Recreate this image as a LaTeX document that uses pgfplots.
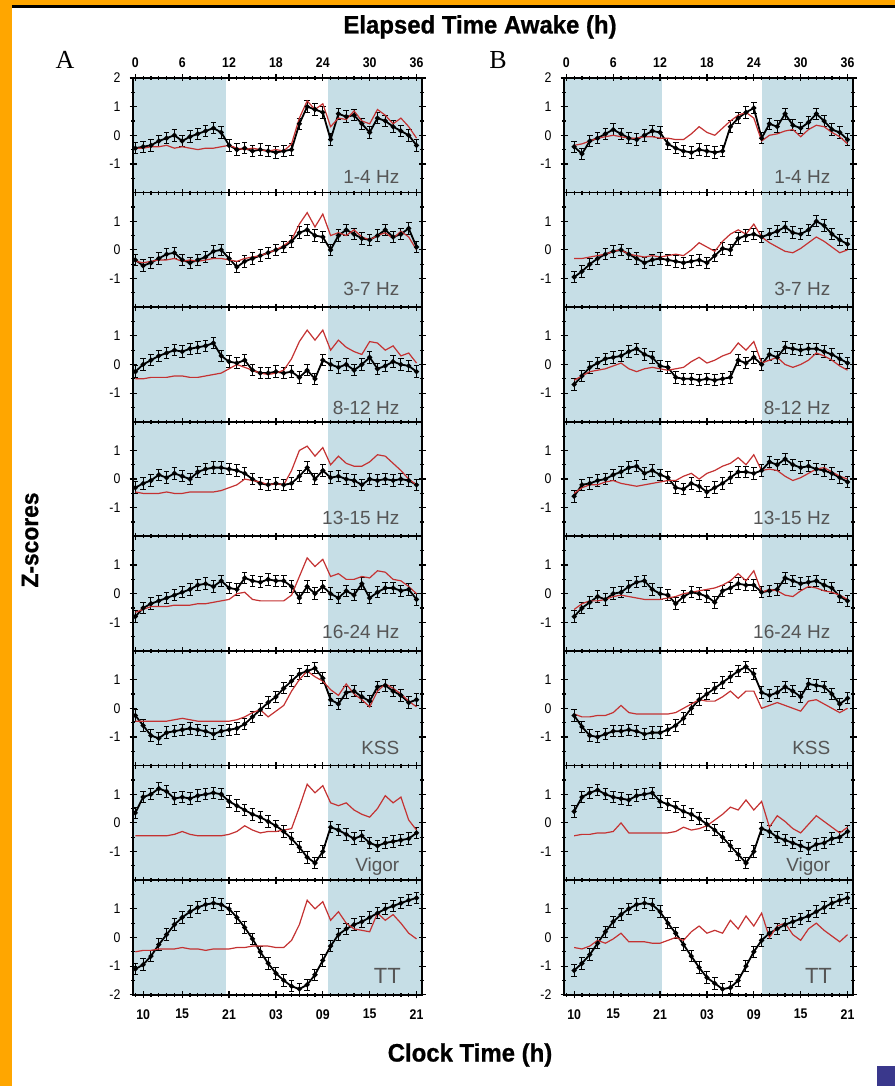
\documentclass[border=0pt]{standalone}
\usepackage{fontspec}
\setmainfont{Liberation Sans}
\newfontfamily\cf[FakeStretch=0.88]{Liberation Sans}
\newfontfamily\cfb[FakeStretch=0.88]{Liberation Sans Bold}
\newfontfamily\ttl[FakeStretch=0.95,FakeBold=0.8]{Liberation Sans Bold}
\newfontfamily\serifA{Liberation Serif}
\usepackage{pgfplots}
\pgfplotsset{compat=1.18}
\definecolor{shadeblue}{RGB}{198,222,230}
\definecolor{zred}{RGB}{196,50,50}
\definecolor{lblgray}{RGB}{85,85,85}
\definecolor{frameorange}{RGB}{255,166,0}
\definecolor{sqblue}{RGB}{58,56,140}
\newcommand\ticksfont{\cf\fontsize{7}{8}\selectfont}
\newcommand\bticksfont{\cfb\fontsize{7}{8}\selectfont}
\tikzset{rowlbl/.style={anchor=east, font=\fontsize{9.5}{10}\selectfont, text=lblgray}}
\pgfplotsset{
  panel/.style={
    scale only axis, width=144.5pt, height=57.3pt,
    xmin=-0.3, xmax=36.7, ymin=-2, ymax=2,
    xtick={0,6,...,36}, minor xtick={0,1,...,36},
    xticklabels={},
    ytick={-1,0,1}, minor ytick={-1.5,-0.5,0.5,1.5},
    tick align=center, major tick length=3.5pt, minor tick length=2pt,
    tick style={black, line width=0.6pt},
    axis line style={line width=0.9pt},
    axis on top,
    yticklabel style={font=\ticksfont, xshift=-1pt},
    xticklabel style={font=\bticksfont},
    /pgf/number format/assume math mode=true,
    clip=true, anchor=south west,
  },
  toprow/.style={ytick={-1,0,1,2}, xticklabel pos=upper, xticklabels={0,6,12,18,24,30,36}},
  botrow/.style={ytick={-2,-1,0,1}, xtick={1,6,12,18,24,30,36}, xticklabels={10,15,21,03,09,15,21}, xticklabel style={yshift=-2pt}},
  blk/.style={black, line width=0.9pt, mark=*, mark size=0.75pt, mark options={solid},
    error bars/.cd, y dir=both, y fixed=0.2, error bar style={line width=0.5pt},
    error mark options={rotate=90, mark size=1.4pt, line width=0.5pt}},
  zr/.style={zred, line width=0.6pt, no markers},
}
\newcommand\shadeA{\fill[shadeblue] (axis cs:-0.3,-2) rectangle (axis cs:11.6,2);\fill[shadeblue] (axis cs:24.7,-2) rectangle (axis cs:36.7,2);}
\newcommand\shadeB{\fill[shadeblue] (axis cs:-0.3,-2) rectangle (axis cs:12.3,2);\fill[shadeblue] (axis cs:25.0,-2) rectangle (axis cs:36.7,2);}
\begin{document}
\begin{tikzpicture}
\path[use as bounding box] (0,0) rectangle (447.5pt,543pt);
\fill[white] (0,0) rectangle (447.5pt,543pt);
\fill[frameorange] (0,0) rectangle (6pt,543pt);
\fill[frameorange] (0,540.5pt) rectangle (447.5pt,543pt);
\fill[black] (6pt,539pt) rectangle (447.5pt,540.5pt);
\fill[sqblue] (438.5pt,0) rectangle (447.5pt,10pt);
\node[font=\ttl\fontsize{12.6}{14}\selectfont] at (240pt,529.5pt) {Elapsed Time Awake (h)};
\node[font=\ttl\fontsize{12.6}{14}\selectfont] at (235pt,15.5pt) {Clock Time (h)};
\node[font=\ttl\fontsize{12}{14}\selectfont, rotate=90] at (15pt,273pt) {Z-scores};
\node[font=\serifA\fontsize{13}{14}\selectfont] at (32.5pt,513pt) {A};
\node[font=\serifA\fontsize{13}{14}\selectfont] at (249pt,513pt) {B};

% ===== Panel A =====
\begin{axis}[panel, toprow, at={(66.5pt,446.7pt)}]
\shadeA
\addplot[blk] coordinates {(0,-0.45)(1,-0.4)(2,-0.35)(3,-0.2)(4,-0.1)(5,0)(6,-0.2)(7,-0.05)(8,0.05)(9,0.15)(10,0.25)(11,0.1)(12,-0.35)(13,-0.5)(14,-0.45)(15,-0.55)(16,-0.5)(17,-0.55)(18,-0.6)(19,-0.55)(20,-0.5)(21,0.4)(22,1)(23,0.9)(24,0.8)(25,-0.15)(26,0.75)(27,0.65)(28,0.7)(29,0.4)(30,0.1)(31,0.6)(32,0.5)(33,0.3)(34,0.15)(35,0)(36,-0.35)};
\addplot[zr] coordinates {(0,-0.45)(1,-0.45)(2,-0.4)(3,-0.4)(4,-0.35)(5,-0.45)(6,-0.4)(7,-0.45)(8,-0.5)(9,-0.45)(10,-0.45)(11,-0.4)(12,-0.35)(13,-0.45)(14,-0.5)(15,-0.45)(16,-0.5)(17,-0.55)(18,-0.5)(19,-0.55)(20,-0.3)(21,0.6)(22,1.2)(23,0.9)(24,1.1)(25,0.3)(26,0.6)(27,0.55)(28,0.85)(29,0.5)(30,0.4)(31,0.9)(32,0.7)(33,0.4)(34,0.6)(35,0.3)(36,-0.1)};
\node[rowlbl] at (axis cs:34.7,-1.45) {1-4 Hz};
\end{axis}

\begin{axis}[panel, at={(66.5pt,389.4pt)}]
\shadeA
\addplot[blk] coordinates {(0,-0.35)(1,-0.55)(2,-0.45)(3,-0.3)(4,-0.15)(5,-0.1)(6,-0.35)(7,-0.45)(8,-0.35)(9,-0.25)(10,-0.05)(11,0)(12,-0.3)(13,-0.6)(14,-0.4)(15,-0.3)(16,-0.2)(17,-0.1)(18,0)(19,0.1)(20,0.3)(21,0.6)(22,0.7)(23,0.5)(24,0.45)(25,0)(26,0.5)(27,0.7)(28,0.55)(29,0.4)(30,0.35)(31,0.5)(32,0.7)(33,0.45)(34,0.55)(35,0.75)(36,0.1)};
\addplot[zr] coordinates {(0,-0.4)(1,-0.45)(2,-0.4)(3,-0.35)(4,-0.35)(5,-0.3)(6,-0.4)(7,-0.35)(8,-0.4)(9,-0.35)(10,-0.3)(11,-0.3)(12,-0.35)(13,-0.4)(14,-0.3)(15,-0.25)(16,-0.2)(17,-0.1)(18,0)(19,0.15)(20,0.35)(21,0.9)(22,1.3)(23,0.8)(24,1.25)(25,0.5)(26,0.6)(27,0.5)(28,0.7)(29,0.45)(30,0.35)(31,0.5)(32,0.6)(33,0.4)(34,0.65)(35,0.45)(36,0)};
\node[rowlbl] at (axis cs:34.7,-1.35) {3-7 Hz};
\end{axis}

\begin{axis}[panel, at={(66.5pt,332.1pt)}]
\shadeA
\addplot[blk] coordinates {(0,-0.25)(1,0)(2,0.15)(3,0.3)(4,0.4)(5,0.5)(6,0.45)(7,0.55)(8,0.6)(9,0.65)(10,0.75)(11,0.3)(12,0.1)(13,0.05)(14,0.15)(15,-0.2)(16,-0.3)(17,-0.3)(18,-0.25)(19,-0.3)(20,-0.25)(21,-0.45)(22,-0.2)(23,-0.5)(24,0.15)(25,0)(26,-0.1)(27,0)(28,-0.2)(29,0)(30,0.25)(31,-0.15)(32,-0.05)(33,0.1)(34,0)(35,-0.05)(36,-0.25)};
\addplot[zr] coordinates {(0,-0.5)(1,-0.5)(2,-0.45)(3,-0.45)(4,-0.45)(5,-0.4)(6,-0.4)(7,-0.45)(8,-0.45)(9,-0.4)(10,-0.35)(11,-0.3)(12,-0.15)(13,0)(14,-0.1)(15,-0.2)(16,-0.3)(17,-0.35)(18,-0.3)(19,-0.2)(20,0.2)(21,0.8)(22,1.2)(23,0.85)(24,1.2)(25,0.5)(26,0.85)(27,0.6)(28,0.45)(29,0.35)(30,0.8)(31,0.75)(32,0.5)(33,0.65)(34,0.3)(35,0.4)(36,0.05)};
\node[rowlbl] at (axis cs:34.7,-1.5) {8-12 Hz};
\end{axis}

\begin{axis}[panel, at={(66.5pt,274.8pt)}]
\shadeA
\addplot[blk] coordinates {(0,-0.3)(1,-0.15)(2,-0.05)(3,0.15)(4,0.05)(5,0.2)(6,0.1)(7,0)(8,0.25)(9,0.35)(10,0.4)(11,0.4)(12,0.35)(13,0.3)(14,0.2)(15,0)(16,-0.15)(17,-0.2)(18,-0.15)(19,-0.2)(20,-0.15)(21,0.1)(22,0.4)(23,0)(24,0.3)(25,0.05)(26,0.1)(27,0)(28,-0.05)(29,-0.2)(30,0)(31,-0.05)(32,0)(33,-0.05)(34,0)(35,-0.05)(36,-0.2)};
\addplot[zr] coordinates {(0,-0.45)(1,-0.5)(2,-0.5)(3,-0.5)(4,-0.45)(5,-0.5)(6,-0.5)(7,-0.45)(8,-0.45)(9,-0.45)(10,-0.45)(11,-0.4)(12,-0.3)(13,-0.2)(14,0)(15,-0.05)(16,-0.1)(17,-0.2)(18,-0.15)(19,-0.2)(20,0.3)(21,1)(22,1.15)(23,0.8)(24,1.1)(25,0.5)(26,0.8)(27,0.55)(28,0.45)(29,0.45)(30,0.6)(31,0.85)(32,0.8)(33,0.55)(34,0.3)(35,0)(36,-0.2)};
\node[rowlbl] at (axis cs:34.7,-1.36) {13-15 Hz};
\end{axis}

\begin{axis}[panel, at={(66.5pt,217.5pt)}]
\shadeA
\addplot[blk] coordinates {(0,-0.8)(1,-0.5)(2,-0.35)(3,-0.25)(4,-0.15)(5,-0.05)(6,0.05)(7,0.15)(8,0.3)(9,0.35)(10,0.25)(11,0.45)(12,0.2)(13,0.15)(14,0.55)(15,0.45)(16,0.4)(17,0.5)(18,0.45)(19,0.45)(20,0.25)(21,-0.15)(22,0.25)(23,0)(24,0.25)(25,0)(26,-0.15)(27,0.1)(28,-0.05)(29,0.35)(30,-0.15)(31,0.05)(32,0.2)(33,0.2)(34,0.1)(35,0.15)(36,-0.2)};
\addplot[zr] coordinates {(0,-0.65)(1,-0.55)(2,-0.45)(3,-0.45)(4,-0.45)(5,-0.4)(6,-0.4)(7,-0.4)(8,-0.35)(9,-0.35)(10,-0.3)(11,-0.25)(12,-0.2)(13,0)(14,0.05)(15,-0.2)(16,-0.25)(17,-0.25)(18,-0.25)(19,-0.25)(20,-0.05)(21,0.6)(22,1.25)(23,0.95)(24,1.2)(25,0.6)(26,0.7)(27,0.5)(28,0.5)(29,0.6)(30,0.55)(31,0.8)(32,0.75)(33,0.5)(34,0.45)(35,0.25)(36,0)};
\node[rowlbl] at (axis cs:34.7,-1.35) {16-24 Hz};
\end{axis}

\begin{axis}[panel, at={(66.5pt,160.2pt)}]
\shadeA
\addplot[blk] coordinates {(0,-0.25)(1,-0.6)(2,-0.95)(3,-1.05)(4,-0.85)(5,-0.8)(6,-0.75)(7,-0.7)(8,-0.75)(9,-0.8)(10,-0.9)(11,-0.8)(12,-0.75)(13,-0.7)(14,-0.55)(15,-0.3)(16,-0.05)(17,0.2)(18,0.4)(19,0.7)(20,0.95)(21,1.2)(22,1.3)(23,1.4)(24,1.05)(25,0.3)(26,0.15)(27,0.55)(28,0.6)(29,0.4)(30,0.25)(31,0.75)(32,0.8)(33,0.6)(34,0.45)(35,0.2)(36,0.3)};
\addplot[zr] coordinates {(0,-0.45)(1,-0.45)(2,-0.45)(3,-0.45)(4,-0.45)(5,-0.4)(6,-0.35)(7,-0.4)(8,-0.45)(9,-0.45)(10,-0.45)(11,-0.45)(12,-0.45)(13,-0.4)(14,-0.3)(15,-0.15)(16,-0.05)(17,-0.3)(18,-0.1)(19,0.1)(20,0.6)(21,1)(22,1.3)(23,1.1)(24,0.95)(25,0.65)(26,0.45)(27,0.85)(28,0.5)(29,0.3)(30,0.05)(31,0.6)(32,0.85)(33,0.7)(34,0.5)(35,0.25)(36,0.05)};
\node[rowlbl] at (axis cs:34.7,-1.39) {KSS};
\end{axis}

\begin{axis}[panel, at={(66.5pt,102.9pt)}]
\shadeA
\addplot[blk] coordinates {(0,0.35)(1,0.9)(2,1)(3,1.2)(4,1.1)(5,0.85)(6,0.9)(7,0.85)(8,0.95)(9,1)(10,1.05)(11,1)(12,0.75)(13,0.6)(14,0.45)(15,0.3)(16,0.2)(17,0.05)(18,-0.1)(19,-0.3)(20,-0.55)(21,-0.85)(22,-1.2)(23,-1.4)(24,-1)(25,-0.15)(26,-0.25)(27,-0.4)(28,-0.55)(29,-0.45)(30,-0.7)(31,-0.8)(32,-0.7)(33,-0.65)(34,-0.6)(35,-0.55)(36,-0.35)};
\addplot[zr] coordinates {(0,-0.45)(1,-0.45)(2,-0.45)(3,-0.45)(4,-0.45)(5,-0.4)(6,-0.3)(7,-0.4)(8,-0.45)(9,-0.45)(10,-0.45)(11,-0.45)(12,-0.4)(13,-0.3)(14,-0.1)(15,-0.25)(16,-0.35)(17,-0.3)(18,-0.3)(19,-0.25)(20,-0.2)(21,0.55)(22,1.35)(23,1.05)(24,1.3)(25,0.7)(26,0.6)(27,0.7)(28,0.45)(29,0.3)(30,0.2)(31,0.5)(32,0.95)(33,0.7)(34,0.9)(35,0.1)(36,-0.25)};
\node[rowlbl] at (axis cs:34.7,-1.54) {Vigor};
\end{axis}

\begin{axis}[panel, botrow, at={(66.5pt,45.6pt)}]
\shadeA
\addplot[blk] coordinates {(0,-1.1)(1,-0.95)(2,-0.65)(3,-0.25)(4,0.1)(5,0.45)(6,0.7)(7,0.9)(8,1.05)(9,1.15)(10,1.2)(11,1.15)(12,1)(13,0.7)(14,0.35)(15,-0.05)(16,-0.5)(17,-0.9)(18,-1.25)(19,-1.5)(20,-1.7)(21,-1.8)(22,-1.65)(23,-1.3)(24,-0.8)(25,-0.3)(26,0.1)(27,0.3)(28,0.45)(29,0.55)(30,0.7)(31,0.85)(32,1)(33,1.1)(34,1.2)(35,1.3)(36,1.38)};
\addplot[zr] coordinates {(0,-0.5)(1,-0.45)(2,-0.45)(3,-0.4)(4,-0.4)(5,-0.4)(6,-0.35)(7,-0.4)(8,-0.4)(9,-0.45)(10,-0.4)(11,-0.4)(12,-0.4)(13,-0.35)(14,-0.35)(15,-0.3)(16,-0.3)(17,-0.3)(18,-0.35)(19,-0.35)(20,-0.1)(21,0.45)(22,1.3)(23,1)(24,1.25)(25,0.6)(26,0.9)(27,0.5)(28,0.3)(29,0.25)(30,0.2)(31,0.85)(32,0.6)(33,0.8)(34,0.5)(35,0.15)(36,-0.05)};
\node[rowlbl, font=\fontsize{11}{12}\selectfont] at (axis cs:34.9,-1.33) {TT};
\end{axis}

% ===== Panel B =====
\begin{axis}[panel, toprow, at={(282pt,446.7pt)}]
\shadeB
\addplot[blk] coordinates {(1,-0.4)(2,-0.65)(3,-0.2)(4,-0.1)(5,0.05)(6,0.2)(7,0.05)(8,-0.1)(9,-0.15)(10,0)(11,0.15)(12,0.1)(13,-0.3)(14,-0.45)(15,-0.55)(16,-0.6)(17,-0.5)(18,-0.55)(19,-0.6)(20,-0.55)(21,0.3)(22,0.6)(23,0.8)(24,0.95)(25,-0.1)(26,0.4)(27,0.3)(28,0.75)(29,0.35)(30,0.25)(31,0.45)(32,0.75)(33,0.5)(34,0.2)(35,0.1)(36,-0.15)};
\addplot[zr] coordinates {(1,-0.35)(2,-0.3)(3,-0.2)(4,-0.1)(5,-0.05)(6,0)(7,-0.05)(8,-0.1)(9,-0.1)(10,-0.05)(11,-0.05)(12,-0.1)(13,-0.1)(14,-0.15)(15,-0.15)(16,0.05)(17,0.3)(18,0.1)(19,0)(20,0.25)(21,0.5)(22,0.7)(23,0.8)(24,0.6)(25,-0.2)(26,0)(27,0.05)(28,0.15)(29,0.2)(30,-0.05)(31,0.2)(32,0.35)(33,0.3)(34,0.1)(35,-0.05)(36,-0.3)};
\node[rowlbl] at (axis cs:34.7,-1.45) {1-4 Hz};
\end{axis}

\begin{axis}[panel, at={(282pt,389.4pt)}]
\shadeB
\addplot[blk] coordinates {(1,-0.95)(2,-0.75)(3,-0.5)(4,-0.3)(5,-0.15)(6,-0.05)(7,0)(8,-0.15)(9,-0.3)(10,-0.45)(11,-0.35)(12,-0.3)(13,-0.35)(14,-0.4)(15,-0.45)(16,-0.4)(17,-0.35)(18,-0.45)(19,-0.2)(20,0.05)(21,0)(22,0.4)(23,0.5)(24,0.55)(25,0.45)(26,0.55)(27,0.65)(28,0.8)(29,0.6)(30,0.55)(31,0.7)(32,1)(33,0.85)(34,0.55)(35,0.35)(36,0.2)};
\addplot[zr] coordinates {(1,-0.3)(2,-0.3)(3,-0.25)(4,-0.2)(5,-0.15)(6,-0.05)(7,0)(8,-0.15)(9,-0.2)(10,-0.25)(11,-0.2)(12,-0.25)(13,-0.2)(14,-0.15)(15,-0.2)(16,0)(17,0.25)(18,0.1)(19,-0.05)(20,0.3)(21,0.55)(22,0.7)(23,0.55)(24,0.9)(25,0.45)(26,0.25)(27,0.1)(28,-0.05)(29,-0.1)(30,0.05)(31,0.25)(32,0.45)(33,0.3)(34,0.1)(35,-0.1)(36,0)};
\node[rowlbl] at (axis cs:34.7,-1.35) {3-7 Hz};
\end{axis}

\begin{axis}[panel, at={(282pt,332.1pt)}]
\shadeB
\addplot[blk] coordinates {(1,-0.7)(2,-0.4)(3,-0.1)(4,0.05)(5,0.2)(6,0.25)(7,0.3)(8,0.45)(9,0.55)(10,0.35)(11,0.25)(12,-0.05)(13,-0.1)(14,-0.45)(15,-0.5)(16,-0.5)(17,-0.55)(18,-0.5)(19,-0.55)(20,-0.5)(21,-0.45)(22,0.15)(23,0.05)(24,0.25)(25,0)(26,0.35)(27,0.25)(28,0.6)(29,0.55)(30,0.5)(31,0.55)(32,0.55)(33,0.45)(34,0.35)(35,0.2)(36,0.05)};
\addplot[zr] coordinates {(1,-0.55)(2,-0.4)(3,-0.25)(4,-0.2)(5,-0.15)(6,-0.05)(7,0.05)(8,-0.15)(9,-0.25)(10,-0.15)(11,-0.1)(12,-0.15)(13,-0.2)(14,-0.15)(15,-0.1)(16,0.1)(17,0.25)(18,0.05)(19,0.15)(20,0.3)(21,0.4)(22,0.75)(23,0.5)(24,0.8)(25,0.05)(26,0.15)(27,0.25)(28,0)(29,-0.1)(30,0)(31,0.15)(32,0.4)(33,0.3)(34,0.15)(35,-0.05)(36,-0.2)};
\node[rowlbl] at (axis cs:34.7,-1.5) {8-12 Hz};
\end{axis}

\begin{axis}[panel, at={(282pt,274.8pt)}]
\shadeB
\addplot[blk] coordinates {(1,-0.6)(2,-0.2)(3,-0.15)(4,-0.05)(5,0)(6,0.15)(7,0.25)(8,0.4)(9,0.45)(10,0.2)(11,0.3)(12,0.15)(13,0.05)(14,-0.3)(15,-0.35)(16,-0.15)(17,-0.25)(18,-0.45)(19,-0.3)(20,-0.15)(21,0.05)(22,0.25)(23,0.25)(24,0.2)(25,0.3)(26,0.6)(27,0.5)(28,0.7)(29,0.5)(30,0.4)(31,0.45)(32,0.35)(33,0.3)(34,0.2)(35,0.05)(36,-0.1)};
\addplot[zr] coordinates {(1,-0.5)(2,-0.3)(3,-0.2)(4,-0.2)(5,-0.1)(6,-0.05)(7,-0.15)(8,-0.2)(9,-0.25)(10,-0.2)(11,-0.15)(12,-0.1)(13,-0.05)(14,-0.05)(15,0.1)(16,0.2)(17,0)(18,0.2)(19,0.3)(20,0.45)(21,0.55)(22,0.75)(23,0.5)(24,0.85)(25,0.3)(26,0.35)(27,0.3)(28,0.1)(29,-0.05)(30,0.05)(31,0.2)(32,0.35)(33,0.4)(34,0.25)(35,0.1)(36,0)};
\node[rowlbl] at (axis cs:34.7,-1.36) {13-15 Hz};
\end{axis}

\begin{axis}[panel, at={(282pt,217.5pt)}]
\shadeB
\addplot[blk] coordinates {(1,-0.8)(2,-0.5)(3,-0.3)(4,-0.1)(5,-0.2)(6,0)(7,0.05)(8,0.25)(9,0.4)(10,0.45)(11,0.15)(12,0)(13,-0.05)(14,-0.35)(15,-0.1)(16,0.05)(17,0)(18,-0.1)(19,-0.3)(20,0.1)(21,0.2)(22,0.35)(23,0.3)(24,0.3)(25,0.05)(26,0.1)(27,0.15)(28,0.55)(29,0.45)(30,0.35)(31,0.4)(32,0.45)(33,0.3)(34,0.2)(35,-0.1)(36,-0.25)};
\addplot[zr] coordinates {(1,-0.55)(2,-0.35)(3,-0.25)(4,-0.25)(5,-0.2)(6,-0.1)(7,-0.05)(8,-0.1)(9,-0.15)(10,-0.2)(11,-0.2)(12,-0.2)(13,-0.15)(14,-0.1)(15,0)(16,0.05)(17,0.1)(18,0.15)(19,0.2)(20,0.3)(21,0.45)(22,0.7)(23,0.45)(24,0.8)(25,0.05)(26,0.15)(27,0.1)(28,-0.05)(29,-0.1)(30,0.1)(31,0.25)(32,0.2)(33,0.1)(34,0.05)(35,-0.05)(36,-0.2)};
\node[rowlbl] at (axis cs:34.7,-1.35) {16-24 Hz};
\end{axis}

\begin{axis}[panel, at={(282pt,160.2pt)}]
\shadeB
\addplot[blk] coordinates {(1,-0.25)(2,-0.65)(3,-0.95)(4,-1)(5,-0.9)(6,-0.8)(7,-0.8)(8,-0.75)(9,-0.8)(10,-0.9)(11,-0.85)(12,-0.85)(13,-0.75)(14,-0.6)(15,-0.35)(16,0)(17,0.3)(18,0.5)(19,0.7)(20,0.9)(21,1.1)(22,1.3)(23,1.45)(24,1.2)(25,0.55)(26,0.45)(27,0.55)(28,0.75)(29,0.6)(30,0.4)(31,0.85)(32,0.8)(33,0.75)(34,0.5)(35,0.15)(36,0.35)};
\addplot[zr] coordinates {(1,-0.2)(2,-0.3)(3,-0.3)(4,-0.25)(5,-0.25)(6,-0.15)(7,0.1)(8,-0.15)(9,-0.2)(10,-0.2)(11,-0.2)(12,-0.2)(13,-0.2)(14,-0.15)(15,0)(16,0.15)(17,0.3)(18,0.25)(19,0.25)(20,0.4)(21,0.6)(22,0.35)(23,0.6)(24,0.6)(25,0)(26,0.1)(27,0.2)(28,0.1)(29,0)(30,-0.1)(31,0.25)(32,0.3)(33,0.15)(34,0)(35,-0.15)(36,0)};
\node[rowlbl] at (axis cs:34.7,-1.39) {KSS};
\end{axis}

\begin{axis}[panel, at={(282pt,102.9pt)}]
\shadeB
\addplot[blk] coordinates {(1,0.4)(2,0.9)(3,1.05)(4,1.15)(5,1)(6,0.9)(7,0.85)(8,0.8)(9,0.95)(10,1)(11,1.05)(12,0.75)(13,0.65)(14,0.55)(15,0.4)(16,0.3)(17,0.15)(18,-0.05)(19,-0.25)(20,-0.5)(21,-0.8)(22,-1.1)(23,-1.4)(24,-1)(25,-0.2)(26,-0.3)(27,-0.5)(28,-0.6)(29,-0.7)(30,-0.8)(31,-0.9)(32,-0.75)(33,-0.7)(34,-0.55)(35,-0.5)(36,-0.3)};
\addplot[zr] coordinates {(1,-0.45)(2,-0.4)(3,-0.4)(4,-0.35)(5,-0.35)(6,-0.3)(7,0)(8,-0.35)(9,-0.35)(10,-0.35)(11,-0.35)(12,-0.35)(13,-0.35)(14,-0.3)(15,-0.15)(16,-0.25)(17,-0.2)(18,-0.1)(19,0.1)(20,0.3)(21,0.55)(22,0.45)(23,0.8)(24,0.45)(25,0.75)(26,-0.15)(27,0.25)(28,0.05)(29,-0.2)(30,-0.35)(31,-0.05)(32,0.25)(33,0.05)(34,-0.15)(35,-0.35)(36,-0.15)};
\node[rowlbl] at (axis cs:34.7,-1.54) {Vigor};
\end{axis}

\begin{axis}[panel, botrow, at={(282pt,45.6pt)}]
\shadeB
\addplot[blk] coordinates {(1,-1.15)(2,-0.9)(3,-0.6)(4,-0.2)(5,0.2)(6,0.55)(7,0.8)(8,1)(9,1.15)(10,1.2)(11,1.15)(12,0.9)(13,0.5)(14,0.15)(15,-0.25)(16,-0.65)(17,-1.05)(18,-1.4)(19,-1.6)(20,-1.8)(21,-1.75)(22,-1.5)(23,-1)(24,-0.5)(25,-0.1)(26,0.15)(27,0.3)(28,0.45)(29,0.55)(30,0.65)(31,0.75)(32,0.9)(33,1.05)(34,1.2)(35,1.3)(36,1.38)};
\addplot[zr] coordinates {(1,-0.35)(2,-0.4)(3,-0.3)(4,-0.1)(5,-0.2)(6,-0.05)(7,0.15)(8,-0.15)(9,-0.15)(10,-0.15)(11,-0.2)(12,-0.2)(13,-0.1)(14,0)(15,-0.1)(16,0.2)(17,0.4)(18,0.15)(19,0.25)(20,0.15)(21,0.6)(22,0.3)(23,0.75)(24,0.4)(25,0.85)(26,0)(27,0.4)(28,0.5)(29,0.1)(30,-0.1)(31,0.3)(32,0.5)(33,0.25)(34,0.05)(35,-0.15)(36,0.1)};
\node[rowlbl, font=\fontsize{11}{12}\selectfont] at (axis cs:34.9,-1.33) {TT};
\end{axis}
\end{tikzpicture}
\end{document}
